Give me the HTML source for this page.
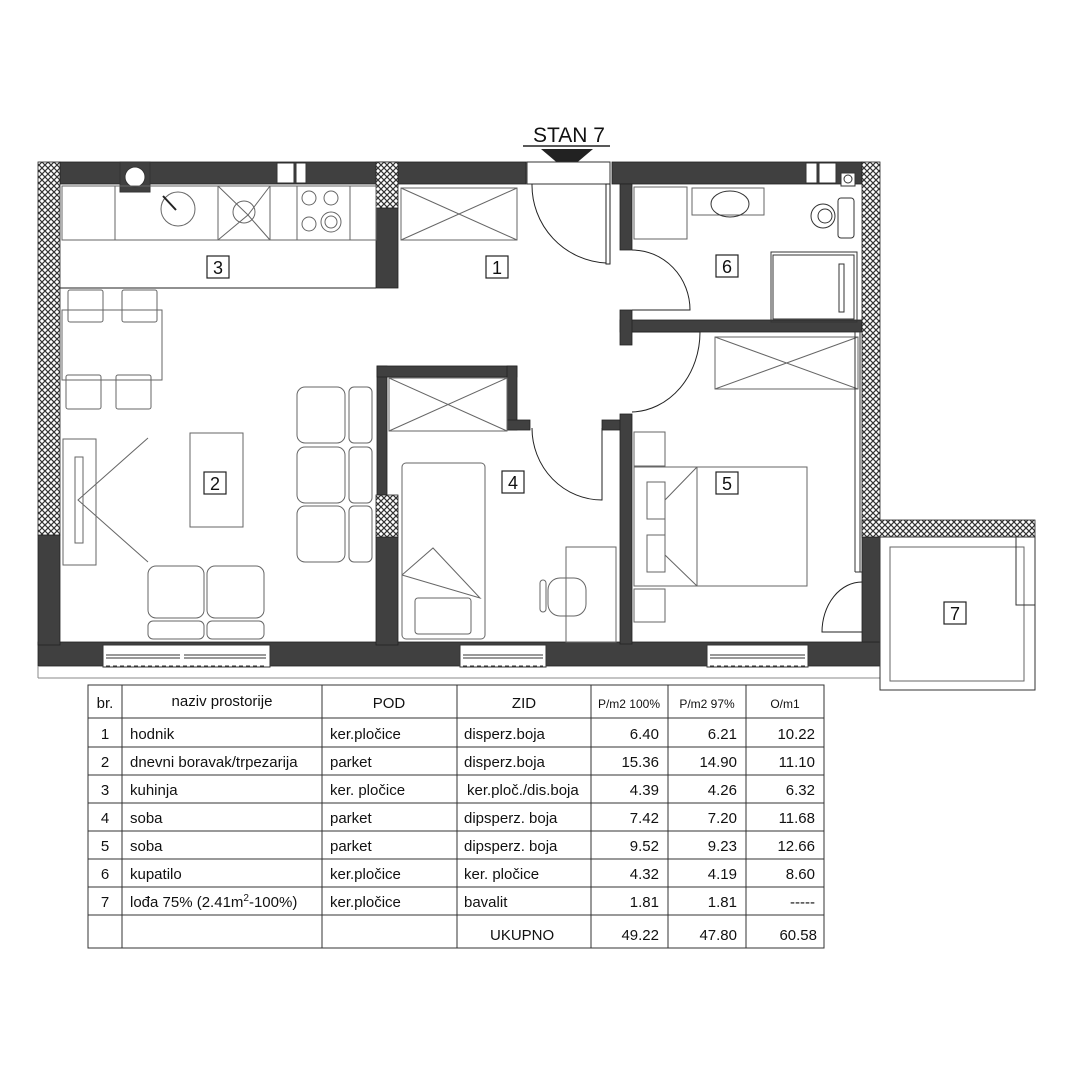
<!DOCTYPE html>
<html><head><meta charset="utf-8"><style>
html,body{margin:0;padding:0;background:#fff;}
svg{display:block;}
text{font-family:"Liberation Sans",sans-serif;fill:#111;}
</style></head><body>
<svg width="1080" height="1080" viewBox="0 0 1080 1080" xmlns="http://www.w3.org/2000/svg">
<defs>
<pattern id="h" width="6" height="6" patternUnits="userSpaceOnUse">
<rect width="6" height="6" fill="#fff"/>
<path d="M0 0L6 6M6 0L0 6" stroke="#333" stroke-width="1.2"/>
</pattern>
</defs>
<!-- title -->
<text x="569" y="142" font-size="21" text-anchor="middle">STAN 7</text>
<line x1="523" y1="146" x2="610" y2="146" stroke="#222" stroke-width="1.5"/>
<polygon points="541,149 593,149 567,171" fill="#222"/>

<g fill="#404040" stroke="#222" stroke-width="0.8">
<!-- top wall -->
<rect x="60" y="162" width="466" height="22"/>
<rect x="612" y="162" width="250" height="22"/>
<!-- bottom wall -->
<rect x="38" y="642" width="842" height="24"/>
<!-- left dark lower -->
<rect x="38" y="535" width="22" height="110"/>
<!-- kitchen/hall wall -->
<rect x="376" y="208" width="22" height="80"/>
<!-- room4 walls -->
<rect x="377" y="366" width="10" height="130"/>
<rect x="377" y="366" width="140" height="11"/>
<rect x="507" y="366" width="10" height="64"/>
<rect x="507" y="420" width="23" height="10"/>
<rect x="376" y="537" width="22" height="108"/>
<rect x="602" y="420" width="20" height="10"/>
<!-- 4/5 wall -->
<rect x="620" y="414" width="12" height="230"/>
<!-- bathroom walls -->
<rect x="620" y="184" width="12" height="66"/>
<rect x="620" y="320" width="242" height="12"/>
<rect x="620" y="310" width="12" height="35"/>
<!-- right wall near balcony -->
<rect x="862" y="537" width="18" height="105"/>
</g>
<!-- hatched walls -->
<g fill="url(#h)" stroke="#222" stroke-width="0.8">
<rect x="38" y="162" width="22" height="373"/>
<rect x="376" y="162" width="22" height="46"/>
<rect x="376" y="495" width="22" height="42"/>
<rect x="862" y="162" width="18" height="375"/>
<rect x="862" y="520" width="173" height="17"/>
</g>
<!-- top wall openings -->
<g fill="#fff" stroke="#333" stroke-width="1">
<rect x="120" y="162" width="30" height="30" fill="#404040"/>
<circle cx="135" cy="177" r="10" fill="#fff"/>
<rect x="277" y="163" width="17" height="20"/>
<rect x="296" y="163" width="10" height="20"/>
<rect x="806" y="163" width="11" height="20"/>
<rect x="819" y="163" width="17" height="20"/>
<rect x="841" y="173" width="14" height="13"/>
<circle cx="848" cy="179" r="4"/>
<rect x="527" y="162" width="83" height="22"/>
</g>
<!-- outline bottom strip -->
<g fill="none" stroke="#888" stroke-width="1">
<line x1="38" y1="678" x2="880" y2="678"/>
<line x1="38" y1="666" x2="38" y2="678"/>
</g>
<!-- windows -->
<g fill="#fff" stroke="#333" stroke-width="1">
<rect x="103" y="645" width="167" height="22"/>
<rect x="460" y="645" width="86" height="22"/>
<rect x="707" y="645" width="101" height="22"/>
</g>
<g stroke="#333" stroke-width="1" fill="none">
<path d="M106 655H180M184 655H266M106 658H180M184 658H266M463 655H543M463 658H543M710 655H805M710 658H805"/>
<path d="M106 666H266M463 666H543M710 666H805" stroke-dasharray="4 3"/>
</g>

<!-- furniture -->
<g fill="none" stroke="#666" stroke-width="1">
<!-- kitchen -->
<rect x="62" y="186" width="314" height="54"/>
<line x1="115" y1="186" x2="115" y2="240"/>
<rect x="218" y="186" width="52" height="54"/>
<path d="M218 186L248 215L270 186M218 240L248 215L270 240"/>
<circle cx="244" cy="212" r="11"/>
<circle cx="178" cy="209" r="17"/>
<line x1="163" y1="196" x2="176" y2="210" stroke="#222" stroke-width="2"/>
<rect x="297" y="186" width="53" height="54"/>
<circle cx="309" cy="198" r="7"/><circle cx="331" cy="198" r="7"/>
<circle cx="309" cy="224" r="7"/><circle cx="331" cy="222" r="10"/><circle cx="331" cy="222" r="6"/>
<line x1="60" y1="288" x2="376" y2="288" stroke="#222"/>
<!-- hall wardrobe -->
<rect x="401" y="188" width="116" height="52"/>
<path d="M401 188L517 240M517 188L401 240"/>
<!-- dining -->
<rect x="62" y="310" width="100" height="70"/>
<rect x="68" y="290" width="35" height="32" rx="2"/><rect x="122" y="290" width="35" height="32" rx="2"/>
<rect x="66" y="375" width="35" height="34" rx="2"/><rect x="116" y="375" width="35" height="34" rx="2"/>
<!-- tv -->
<rect x="63" y="439" width="33" height="126"/>
<rect x="75" y="457" width="8" height="86"/>
<path d="M148 438L78 500L148 562"/>
<rect x="190" y="433" width="53" height="94"/>
<!-- sofas -->
<rect x="297" y="387" width="48" height="56" rx="8"/><rect x="297" y="447" width="48" height="56" rx="8"/><rect x="297" y="506" width="48" height="56" rx="8"/>
<rect x="349" y="387" width="23" height="56" rx="5"/><rect x="349" y="447" width="23" height="56" rx="5"/><rect x="349" y="506" width="23" height="56" rx="5"/>
<rect x="148" y="566" width="56" height="52" rx="8"/><rect x="207" y="566" width="57" height="52" rx="8"/>
<rect x="148" y="621" width="56" height="18" rx="5"/><rect x="207" y="621" width="57" height="18" rx="5"/>
<!-- room 4 -->
<rect x="389" y="378" width="118" height="53"/>
<path d="M389 378L507 431M507 378L389 431"/>
<rect x="402" y="463" width="83" height="176" rx="4"/>
<rect x="415" y="598" width="56" height="36" rx="3"/>
<path d="M402 575L480 598L433 548L402 575"/>
<rect x="566" y="547" width="50" height="95"/>
<rect x="548" y="578" width="38" height="38" rx="12"/>
<rect x="540" y="580" width="6" height="32" rx="3"/>
<!-- bathroom -->
<rect x="634" y="187" width="53" height="52"/>
<rect x="692" y="188" width="72" height="27"/>
<ellipse cx="730" cy="204" rx="19" ry="13" stroke="#333"/>
<circle cx="823" cy="216" r="12" stroke="#333"/><circle cx="825" cy="216" r="7" stroke="#333"/>
<rect x="838" y="198" width="16" height="40" rx="3" stroke="#333"/>
<rect x="771" y="252" width="86" height="70" stroke="#333"/>
<rect x="773" y="255" width="81" height="64" stroke="#333"/>
<rect x="839" y="264" width="5" height="48" stroke="#333"/>
<!-- room 5 -->
<rect x="715" y="337" width="143" height="52"/>
<path d="M715 337L858 389M858 337L715 389"/>
<rect x="634" y="467" width="173" height="119"/>
<line x1="697" y1="467" x2="697" y2="586"/>
<path d="M697 467L665 500V555L697 586"/>
<rect x="647" y="482" width="18" height="37"/><rect x="647" y="535" width="18" height="37"/>
<rect x="634" y="432" width="31" height="34"/><rect x="634" y="589" width="31" height="33"/>
<!-- room5 right double line -->
<line x1="855" y1="332" x2="855" y2="572" stroke="#333"/>
<line x1="860" y1="332" x2="860" y2="572" stroke="#333"/>
<line x1="855" y1="572" x2="862" y2="572" stroke="#333"/>
<!-- balcony -->
<rect x="880" y="537" width="155" height="153" stroke="#333"/>
<rect x="890" y="547" width="134" height="134"/>
<rect x="1016" y="537" width="19" height="68" stroke="#333"/>
</g>

<!-- doors -->
<g fill="none" stroke="#222" stroke-width="1">
<path d="M532 184A78 78 0 0 0 606 263"/>
<rect x="606" y="184" width="4" height="80" fill="#fff"/>
<path d="M632 250A58 60 0 0 1 690 310H632"/>
<path d="M632 332H700A70 80 0 0 1 632 412"/>
<path d="M532 428A70 72 0 0 0 602 500V428"/>
<path d="M862 582A40 50 0 0 0 822 632H862"/>
</g>

<!-- labels -->
<g font-size="18" text-anchor="middle">
<g fill="#fff" stroke="#222" stroke-width="1.2">
<rect x="207" y="256" width="22" height="22"/>
<rect x="486" y="256" width="22" height="22"/>
<rect x="716" y="255" width="22" height="22"/>
<rect x="204" y="472" width="22" height="22"/>
<rect x="502" y="471" width="22" height="22"/>
<rect x="716" y="472" width="22" height="22"/>
<rect x="944" y="602" width="22" height="22"/>
</g>
<text x="218" y="274">3</text><text x="497" y="274">1</text><text x="727" y="273">6</text>
<text x="215" y="490">2</text><text x="513" y="489">4</text><text x="727" y="490">5</text><text x="955" y="620">7</text>
</g>

<!-- table -->
<g stroke="#333" stroke-width="1" fill="none">
<rect x="88" y="685" width="736" height="263"/>
<path d="M88 718H824M88 747H824M88 775H824M88 803H824M88 831H824M88 859H824M88 887H824M88 915H824"/>
<path d="M122 685V948M322 685V948M457 685V948M591 685V948M668 685V948M746 685V948"/>
</g>
<g font-size="15">
<text x="105" y="708" text-anchor="middle">br.</text>
<text x="222" y="706" text-anchor="middle">naziv prostorije</text>
<text x="389" y="708" text-anchor="middle">POD</text>
<text x="524" y="708" text-anchor="middle">ZID</text>
<text x="629" y="708" text-anchor="middle" font-size="12">P/m2 100%</text>
<text x="707" y="708" text-anchor="middle" font-size="12">P/m2 97%</text>
<text x="785" y="708" text-anchor="middle" font-size="12">O/m1</text>
</g>
<g font-size="15">
<g text-anchor="middle"><text x="105" y="739">1</text><text x="105" y="767">2</text><text x="105" y="795">3</text><text x="105" y="823">4</text><text x="105" y="851">5</text><text x="105" y="879">6</text><text x="105" y="907">7</text></g>
<text x="130" y="739">hodnik</text><text x="130" y="767">dnevni boravak/trpezarija</text><text x="130" y="795">kuhinja</text><text x="130" y="823">soba</text><text x="130" y="851">soba</text><text x="130" y="879">kupatilo</text><text x="130" y="907">lođa 75%  (2.41m<tspan font-size="10" dy="-6">2</tspan><tspan dy="6">-100%)</tspan></text>
<text x="330" y="739">ker.pločice</text><text x="330" y="767">parket</text><text x="330" y="795">ker. pločice</text><text x="330" y="823">parket</text><text x="330" y="851">parket</text><text x="330" y="879">ker.pločice</text><text x="330" y="907">ker.pločice</text>
<text x="464" y="739">disperz.boja</text><text x="464" y="767">disperz.boja</text><text x="467" y="795">ker.ploč./dis.boja</text><text x="464" y="823">dipsperz. boja</text><text x="464" y="851">dipsperz. boja</text><text x="464" y="879">ker. pločice</text><text x="464" y="907">bavalit</text>
<text x="490" y="940">UKUPNO</text>
<g text-anchor="end">
<text x="659" y="739">6.40</text><text x="659" y="767">15.36</text><text x="659" y="795">4.39</text><text x="659" y="823">7.42</text><text x="659" y="851">9.52</text><text x="659" y="879">4.32</text><text x="659" y="907">1.81</text><text x="659" y="940">49.22</text>
<text x="737" y="739">6.21</text><text x="737" y="767">14.90</text><text x="737" y="795">4.26</text><text x="737" y="823">7.20</text><text x="737" y="851">9.23</text><text x="737" y="879">4.19</text><text x="737" y="907">1.81</text><text x="737" y="940">47.80</text>
<text x="815" y="739">10.22</text><text x="815" y="767">11.10</text><text x="815" y="795">6.32</text><text x="815" y="823">11.68</text><text x="815" y="851">12.66</text><text x="815" y="879">8.60</text><text x="815" y="907">-----</text><text x="817" y="940">60.58</text>
</g>
</g>
</svg>
</body></html>
